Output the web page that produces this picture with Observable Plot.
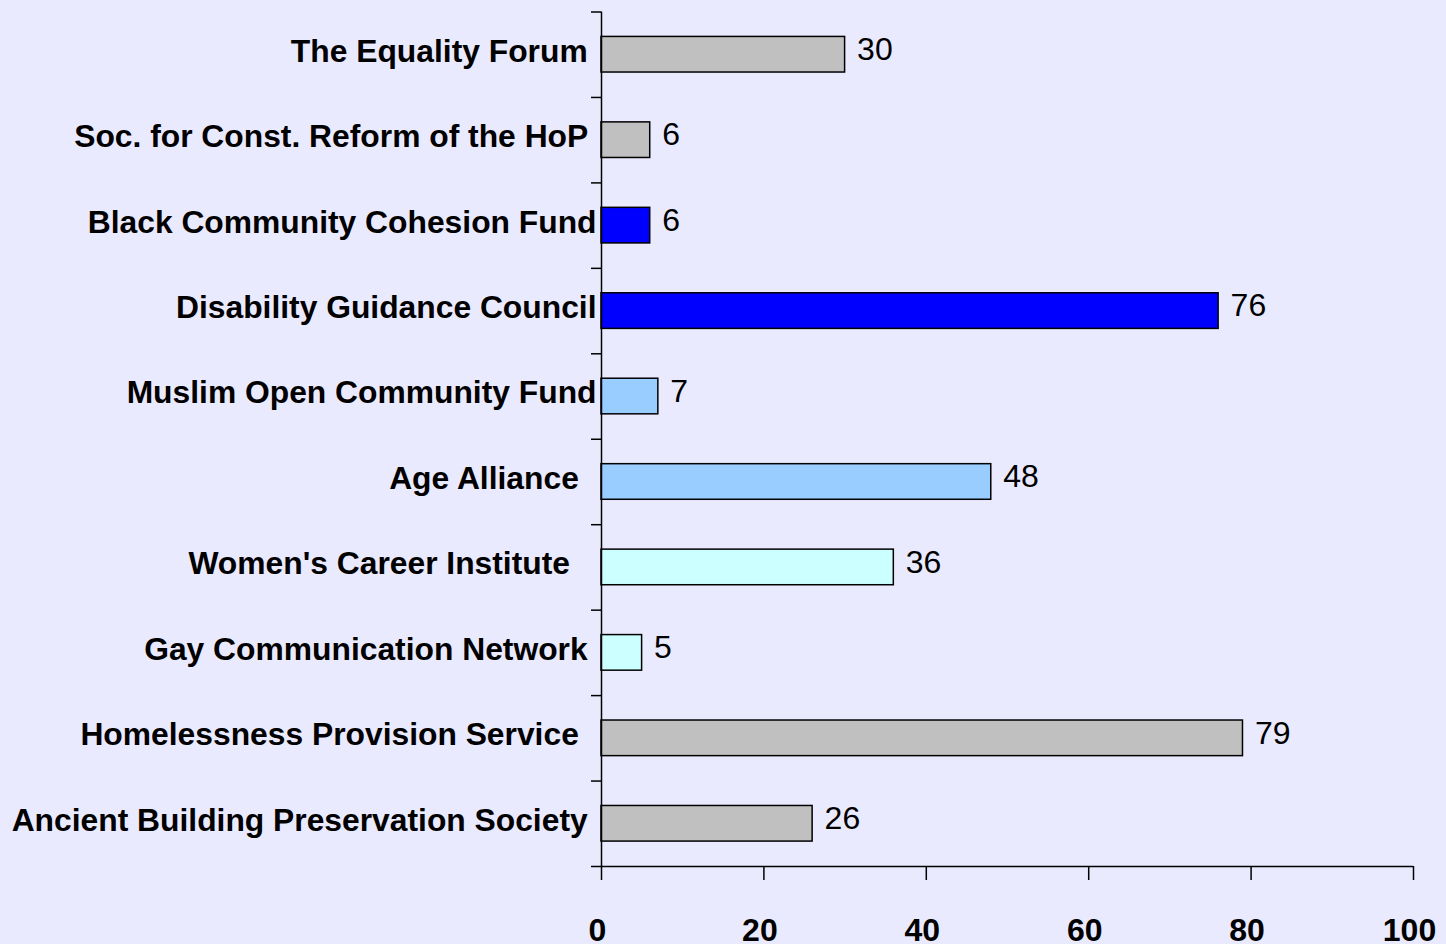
<!DOCTYPE html>
<html><head><meta charset="utf-8">
<script src="https://cdn.jsdelivr.net/npm/d3@7"></script>
<script src="https://cdn.jsdelivr.net/npm/@observablehq/plot@0.6"></script>
<style>
html,body{margin:0;padding:0;background:#EAEAFF;}
#chart svg text{white-space:pre;}
</style></head><body><div id="chart"></div>
<script>
const categories = [
  "The Equality Forum ",
  "Soc. for Const. Reform of the HoP ",
  "Black Community Cohesion Fund",
  "Disability Guidance Council",
  "Muslim Open Community Fund",
  "Age Alliance  ",
  "Women's Career Institute   ",
  "Gay Communication Network ",
  "Homelessness Provision Service  ",
  "Ancient Building Preservation Society "
];
const values = [30, 6, 6, 76, 7, 48, 36, 5, 79, 26];
const groups = ["Group A", "Group A", "Group B", "Group B", "Group C", "Group C", "Group D", "Group D", "Group A", "Group A"];
const groupNames = ["Group A", "Group B", "Group C", "Group D"];
const xTicks = [0, 20, 40, 60, 80, 100];

const data = categories.map((c, i) => ({category: c, value: values[i], group: groups[i]}));

const W = 1446, H = 944, mL = 601, mR = 33, mT = 11.5, mB = 78;
const step = (H - mT - mB) / categories.length;
const barH = 35.6;
const inset = (step - barH) / 2;
const font = "'Liberation Sans', Arial, Helvetica, sans-serif";
const last = categories[categories.length - 1];

const chart = Plot.plot({
  width: W, height: H,
  marginLeft: mL, marginRight: mR, marginTop: mT, marginBottom: mB,
  style: {background: "#EAEAFF", fontFamily: font, fontSize: "32px", color: "#000", overflow: "visible"},
  x: {domain: [0, 100], label: null},
  y: {domain: categories, padding: 0, round: false, axis: null},
  color: {type: "ordinal", domain: groupNames, range: ["#C0C0C0", "#0000FF", "#99CCFF", "#CCFFFF"]},
  marks: [
    Plot.barX(data, {x: "value", y: "category", fill: "group", stroke: "#000", strokeWidth: 1.5, insetTop: inset, insetBottom: inset}),
    // y axis line
    Plot.ruleX([0], {stroke: "#000", strokeWidth: 1.5}),
    // y axis boundary ticks
    Plot.ruleY(categories, {y: d => d, x1: 0, x2: 0, insetLeft: -10, dy: step / 2, stroke: "#000", strokeWidth: 1.5}),
    Plot.ruleY([categories[0]], {y: d => d, x1: 0, x2: 0, insetLeft: -10, dy: -step / 2, stroke: "#000", strokeWidth: 1.5}),
    // x axis line
    Plot.ruleY([last], {y: d => d, x1: 0, x2: 100, dy: step / 2, stroke: "#000", strokeWidth: 1.5}),
    // x axis ticks
    Plot.tickX(xTicks, {x: d => d, y: () => last, insetTop: step, insetBottom: -14, stroke: "#000", strokeWidth: 1.5}),
    // x axis labels
    Plot.axisX({ticks: xTicks, tickSize: 0, tickPadding: 52, dx: -4, fontWeight: "bold", fontSize: 32, label: null, tickFormat: d => String(d)}),
    // category labels
    Plot.text(data, {x: 0, y: "category", text: "category", textAnchor: "end", dx: -5, dy: -3.3, fontWeight: "bold", fontSize: 31.8}),
    // value labels
    Plot.text(data, {x: "value", y: "category", text: d => String(d.value), textAnchor: "start", dx: 12, dy: -5, fontSize: 32})
  ]
});

chart.querySelectorAll("text").forEach(t => t.setAttributeNS("http://www.w3.org/XML/1998/namespace", "xml:space", "preserve"));
document.getElementById("chart").appendChild(chart);
</script>
</body></html>
